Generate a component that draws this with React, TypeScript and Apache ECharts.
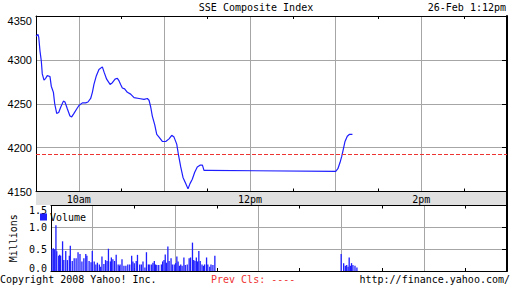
import React, { useEffect, useRef } from 'react';
import * as echarts from 'echarts';

const MONO = '"DejaVu Sans Mono", monospace';
const SANS = '"Liberation Sans", Arial, sans-serif';
const BLUE = '#1e1eff';
const GRID = '#a6a6a6';

// minutes after 9:30 open
const priceMinutes = [0, 1.4, 1.9, 2.8, 3.7, 4.4, 5.6, 6.8, 7.9, 9.8, 10.7, 12.2, 13.1, 14.5, 15.9, 17.3, 19.2, 20.3, 22.0, 23.8, 25.0, 26.6, 28.5, 30.1, 32.5, 34.8, 36.4, 38.3, 39.5, 40.6, 42.3, 44.1, 46.5, 47.7, 49.5, 51.9, 53.5, 55.4, 57.0, 58.2, 59.3, 60.5, 62.1, 64.0, 66.3, 68.7, 72.2, 75.7, 78.0, 79.2, 80.4, 81.5, 83.2, 84.6, 86.2, 88.5, 90.9, 93.2, 95.1, 96.7, 98.6, 99.7, 101.4, 103.0, 104.9, 106.5, 107.9, 109.5, 111.2, 113.0, 114.9, 116.6, 117.7, 120, 210, 211.5, 213, 214.2, 215.3, 216.5, 218.1, 219.5, 221.7];
const priceValues = [4327, 4329, 4326, 4310, 4299, 4284, 4277, 4279, 4282, 4281, 4270, 4263, 4250, 4239, 4240, 4246, 4253, 4252, 4244, 4236, 4235, 4239, 4244, 4248, 4251, 4251, 4252, 4256, 4263, 4272, 4282, 4289, 4292, 4286, 4278, 4272, 4274, 4278, 4279, 4276, 4272, 4268, 4267, 4263, 4261, 4257, 4256, 4255, 4256, 4254, 4246, 4236, 4226, 4215, 4212, 4207, 4207, 4210, 4214, 4212, 4204, 4193, 4178, 4166, 4159, 4153, 4159, 4164, 4172, 4178, 4180, 4180, 4174, 4174, 4173, 4176, 4183, 4190, 4198, 4207, 4213, 4215, 4215];

const volMinutes = [0.7, 1.7, 2.7, 3.6, 4.2, 5.6, 6.3, 7.0, 8.4, 9.3, 10.7, 11.9, 13.3, 14.0, 15.4, 16.8, 18.2, 19.6, 21.0, 22.4, 23.8, 25.2, 26.0, 27.6, 29.0, 29.9, 31.3, 32.5, 33.6, 35.0, 36.0, 36.9, 38.3, 39.5, 40.6, 41.6, 43.0, 43.7, 44.8, 46.0, 47.2, 48.6, 49.5, 50.0, 51.4, 52.8, 54.2, 55.6, 57.0, 58.4, 59.3, 60.3, 61.7, 62.6, 64.2, 65.4, 66.6, 68.0, 69.1, 70.5, 71.5, 72.9, 73.8, 74.8, 75.7, 76.6, 78.0, 79.9, 80.8, 81.8, 82.7, 83.6, 84.6, 85.5, 86.9, 87.8, 89.2, 90.2, 91.1, 92.0, 93.0, 93.9, 94.9, 96.2, 97.2, 98.6, 100.0, 101.0, 102.4, 103.3, 104.2, 105.2, 106.1, 107.0, 108.0, 109.3, 110.3, 111.2, 112.6, 113.5, 114.9, 115.8, 117.2, 118.6, 210.0, 211.8, 213.0, 214.0, 215.0, 215.8, 216.8, 217.5, 218.5, 220.0, 221.4];
const volValues = [0.5, 0.52, 0.5, 1.05, 0.45, 0.35, 0.37, 0.35, 0.68, 0.25, 0.46, 0.25, 0.35, 0.58, 0.23, 0.29, 0.29, 0.43, 0.39, 0.22, 0.29, 0.39, 0.35, 0.23, 0.2, 0.46, 0.22, 0.15, 0.19, 0.15, 0.1, 0.33, 0.16, 0.25, 0.23, 0.51, 0.22, 0.31, 0.27, 0.23, 0.37, 0.15, 0.12, 0.15, 0.27, 0.12, 0.12, 0.15, 0.15, 0.35, 0.22, 0.18, 0.23, 0.37, 0.15, 0.15, 0.22, 0.08, 0.43, 0.15, 0.15, 0.15, 0.19, 0.23, 0.15, 0.14, 0.14, 0.15, 0.22, 0.25, 0.38, 0.19, 0.56, 0.23, 0.29, 0.15, 0.15, 0.18, 0.33, 0.22, 0.12, 0.15, 0.12, 0.31, 0.14, 0.15, 0.29, 0.31, 0.65, 0.25, 0.23, 0.31, 0.22, 0.46, 0.23, 0.15, 0.12, 0.15, 0.31, 0.15, 0.1, 0.15, 0.14, 0.35, 0.39, 0.18, 0.12, 0.14, 0.1, 0.31, 0.12, 0.18, 0.14, 0.12, 0.08];

const prevClose = 4192;
const labelHours = [10, 12, 14];
const labelTexts = ['10am', '12pm', '2pm'];

const toHour = (m: number) => 9.5 + m / 60;

const monoText = { fontFamily: MONO, fontSize: 10, color: '#000', fontWeight: 'normal' as const };

function xAxisBase(gridIndex: number, position: 'top' | 'bottom', withLabels: boolean, withSplit: boolean) {
  return {
    type: 'value',
    gridIndex,
    position,
    min: 9.5,
    max: 15,
    minInterval: 1,
    maxInterval: 1,
    axisLine: { show: true, onZero: false, lineStyle: { color: '#000', width: 1 } },
    axisTick: { show: false, inside: true },
    minorTick: { show: true, splitNumber: 2, length: 3, lineStyle: { color: '#000', width: 1 } },
    axisLabel: {
      show: withLabels,
      margin: 3,
      showMinLabel: false,
      showMaxLabel: false,
      ...monoText,
      formatter: (v: number) => {
        const i = labelHours.indexOf(v);
        return i >= 0 ? labelTexts[i] : '';
      },
    },
    splitLine: { show: withSplit, showMinLine: false, showMaxLine: false, lineStyle: { color: GRID, width: 1 } },
  };
}

function rightAxis(gridIndex: number, min: number, max: number, interval: number) {
  return {
    type: 'value',
    gridIndex,
    position: 'right',
    min,
    max,
    interval,
    axisLine: { show: true, lineStyle: { color: '#000', width: 2 } },
    axisTick: { show: true, inside: true, length: 5, lineStyle: { color: '#000', width: 1 } },
    axisLabel: { show: false },
    splitLine: { show: false },
  };
}

export default function App() {
  const ref = useRef<HTMLDivElement>(null);
  useEffect(() => {
    if (!ref.current) return;
    const chart = echarts.init(ref.current, undefined, { renderer: 'svg' });
    chart.setOption({
      animation: false,
      backgroundColor: '#fff',
      title: [
        { text: 'SSE Composite Index', left: 'center', top: 2, padding: 0, textStyle: monoText },
        { text: '26-Feb 1:12pm', right: 6, top: 2, padding: 0, textStyle: monoText },
        { text: 'Copyright 2008 Yahoo! Inc.', left: 0, top: 274, padding: 0, textStyle: monoText },
        { text: 'Prev Cls: ----', left: 211, top: 274, padding: 0, textStyle: { ...monoText, color: '#ee3333' } },
        { text: 'http://finance.yahoo.com/', right: 2, top: 274, padding: 0, textStyle: monoText },
      ],
      legend: {
        data: ['Volume'],
        left: 40,
        top: 212,
        padding: 0,
        icon: 'rect',
        itemWidth: 7,
        itemHeight: 7,
        textStyle: { ...monoText, padding: [0, 0, 0, -2] },
      },
      graphic: [
        { type: 'rect', z: -1, silent: true, shape: { x: 36, y: 192, width: 471, height: 13 }, style: { fill: '#e0e0e0' } },
        { type: 'line', silent: true, shape: { x1: 507, y1: 191, x2: 507, y2: 206 }, style: { stroke: '#000', lineWidth: 2 } },
      ],
      grid: [
        { left: 36, top: 16, width: 471, height: 175.5 },
        { left: 36, top: 205.5, width: 471, height: 65.5 },
      ],
      xAxis: [
        xAxisBase(0, 'bottom', true, true),
        xAxisBase(0, 'top', false, false),
        xAxisBase(1, 'bottom', false, true),
        xAxisBase(1, 'top', false, false),
      ],
      yAxis: [
        {
          type: 'value',
          gridIndex: 0,
          position: 'left',
          min: 4150,
          max: 4350,
          interval: 50,
          axisLine: { show: true, lineStyle: { color: '#000', width: 1 } },
          axisTick: { show: false },
          axisLabel: {
            margin: 4,
            fontFamily: SANS,
            fontSize: 11,
            color: '#000',
            formatter: (v: number) => (v === 4350 ? '{t|' + v + '}' : String(v)),
            rich: { t: { fontFamily: SANS, fontSize: 11, color: '#000', padding: [9, 0, 0, 0] } },
          },
          splitLine: { show: true, showMinLine: false, showMaxLine: false, lineStyle: { color: GRID, width: 1 } },
        },
        rightAxis(0, 4150, 4350, 50),
        {
          type: 'value',
          gridIndex: 1,
          position: 'left',
          min: 0,
          max: 1.5,
          interval: 0.5,
          name: 'Millions',
          nameLocation: 'middle',
          nameRotate: 90,
          nameGap: 26,
          nameTextStyle: monoText,
          axisLine: { show: true, lineStyle: { color: '#000', width: 1 } },
          axisTick: { show: false },
          axisLabel: {
            margin: 4,
            ...monoText,
            formatter: (v: number) => {
              const s = v.toFixed(1);
              if (v === 1.5) return '{t|' + s + '}';
              if (v === 0) return '{b|' + s + '}';
              return s;
            },
            rich: {
              t: { ...monoText, padding: [9, 0, 0, 0] },
              b: { ...monoText, padding: [0, 0, 6, 0] },
            },
          },
          splitLine: { show: true, showMinLine: false, showMaxLine: false, lineStyle: { color: GRID, width: 1 } },
        },
        rightAxis(1, 0, 1.5, 0.5),
      ],
      series: [
        {
          type: 'line',
          name: 'SSE',
          xAxisIndex: 0,
          yAxisIndex: 0,
          data: priceMinutes.map((m, i) => [toHour(m), priceValues[i]]),
          showSymbol: false,
          symbol: 'none',
          lineStyle: { color: BLUE, width: 1.2 },
          z: 3,
          markLine: {
            silent: true,
            symbol: ['none', 'none'],
            label: { show: false },
            lineStyle: { color: '#ee3333', type: [4, 2], width: 1 },
            data: [{ yAxis: prevClose }],
          },
        },
        {
          type: 'bar',
          name: 'Volume',
          xAxisIndex: 2,
          yAxisIndex: 2,
          barWidth: 1.3,
          itemStyle: { color: BLUE },
          data: volMinutes.map((m, i) => [toHour(m), volValues[i]]),
        },
      ],
    });
    return () => chart.dispose();
  }, []);
  return <div ref={ref} style={{ position: 'absolute', left: 0, top: 0, width: 512, height: 288 }} />;
}
